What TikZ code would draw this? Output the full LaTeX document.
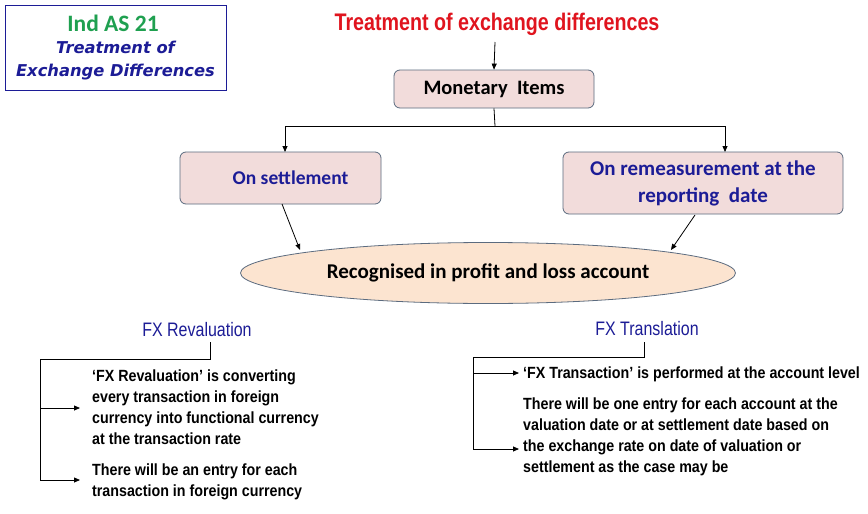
\documentclass[tikz,border=0pt]{standalone}
\usepackage{fontspec}
\setmainfont{Carlito}
\newfontfamily\narrowf[FakeStretch=0.88]{Liberation Sans}
\newfontfamily\condf[FakeStretch=0.82]{Liberation Sans}
\newfontfamily\verdf{DejaVu Sans}
\usetikzlibrary{shapes.geometric,arrows.meta}
\definecolor{navy}{HTML}{1C1C96}
\definecolor{boxfill}{HTML}{F2DCDB}
\definecolor{boxline}{HTML}{5B6B7F}
\definecolor{ellfill}{HTML}{FCE4D0}
\definecolor{titlered}{HTML}{E0141E}
\definecolor{indgreen}{HTML}{1FA050}
\tikzset{
  pinkbox/.style={draw=boxline, fill=boxfill, rounded corners=6pt, line width=0.8pt, align=center, inner sep=0pt},
  conn/.style={line width=0.8pt, -{Triangle[length=6pt,width=5pt]}},
  plain/.style={line width=0.8pt},
  para/.style={anchor=north west, inner sep=0pt, align=left, font=\narrowf\fontsize{16.2}{21}\selectfont\bfseries},
  fxhead/.style={text=navy, font=\condf\fontsize{19.5}{22}\selectfont},
}
\begin{document}
\begin{tikzpicture}[x=1pt,y=-1pt]
\useasboundingbox (0,0) rectangle (868,514);
\fill[white] (0,0) rectangle (868,514);
% header box
\node[draw=navy, line width=1pt, minimum width=221pt, minimum height=85pt, inner sep=0pt] (hdr) at (115.5,47.5) {};
\node[text=indgreen, font=\fontsize{23.5}{26}\selectfont\bfseries] (ind) at (113,23) {Ind AS 21};
\node[text=navy, font=\verdf\fontsize{16.3}{23}\selectfont\bfseries\itshape, align=center] (trt) at (115.5,61) {Treatment of\\Exchange Differences};
% title
\node[text=titlered, font=\condf\fontsize{24}{28}\selectfont\bfseries] (title) at (497,24) {Treatment of exchange differences};
% monetary items
\node[pinkbox, minimum width=200pt, minimum height=38pt, text=black, font=\fontsize{20.5}{25}\selectfont\bfseries] (mon) at (494,89) {Monetary\ \ Items};
\draw[conn] (495,42) -- (mon.north);
% branches
\node[pinkbox, minimum width=201pt, minimum height=52pt, text=navy, font=\fontsize{19.5}{25}\selectfont\bfseries] (set) at (280.5,178) {\hspace*{20pt}On settlement};
\node[pinkbox, minimum width=280pt, minimum height=62pt, text=navy, font=\fontsize{21}{27}\selectfont\bfseries] (rem) at (703,183) {On remeasurement at the\\reporting\ \ date};
\coordinate (split) at (495,126);
\draw[plain] (mon.south) -- (split);
\draw[conn] (split) -| (285,152);
\draw[conn] (split) -| (725,152);
% ellipse
\node[ellipse, draw=boxline, fill=ellfill, line width=0.8pt, minimum width=495pt, minimum height=61pt, inner sep=0pt, font=\fontsize{21}{24}\selectfont\bfseries] (rec) at (488,273) {Recognised in profit and loss account};
\draw[conn] (282,204) -- (300,250);
\draw[conn] (695,215) -- (671,250);
% FX revaluation
\node[fxhead] (fxr) at (197,330) {FX Revaluation};
\coordinate (r1) at (210,359);
\coordinate (r2) at (40,359);
\coordinate (r3) at (40,480);
\draw[plain] (210,342) -- (r1) -- (r2) -- (r3);
\node[para] (rt1) at (92,370) {‘FX Revaluation’ is converting\\every transaction in foreign\\currency into functional currency\\at the transaction rate};
\node[para] (rt2) at (92,464) {There will be an entry for each\\transaction in foreign currency};
\draw[conn] (40,408) -- (80,408);
\draw[conn] (r3) -- (80,480);
% FX translation
\node[fxhead] (fxt) at (647,329) {FX Translation};
\coordinate (t1) at (644,357);
\coordinate (t2) at (473,357);
\coordinate (t3) at (473,449);
\draw[plain] (644,342) -- (t1) -- (t2) -- (t3);
\node[para] (tt1) at (523,367) {‘FX Transaction’ is performed at the account level};
\node[para] (tt2) at (523,398) {There will be one entry for each account at the\\valuation date or at settlement date based on\\the exchange rate on date of valuation or\\settlement as the case may be};
\draw[conn] (473,373) -- (519,373);
\draw[conn] (t3) -- (519,449);
\end{tikzpicture}
\end{document}
